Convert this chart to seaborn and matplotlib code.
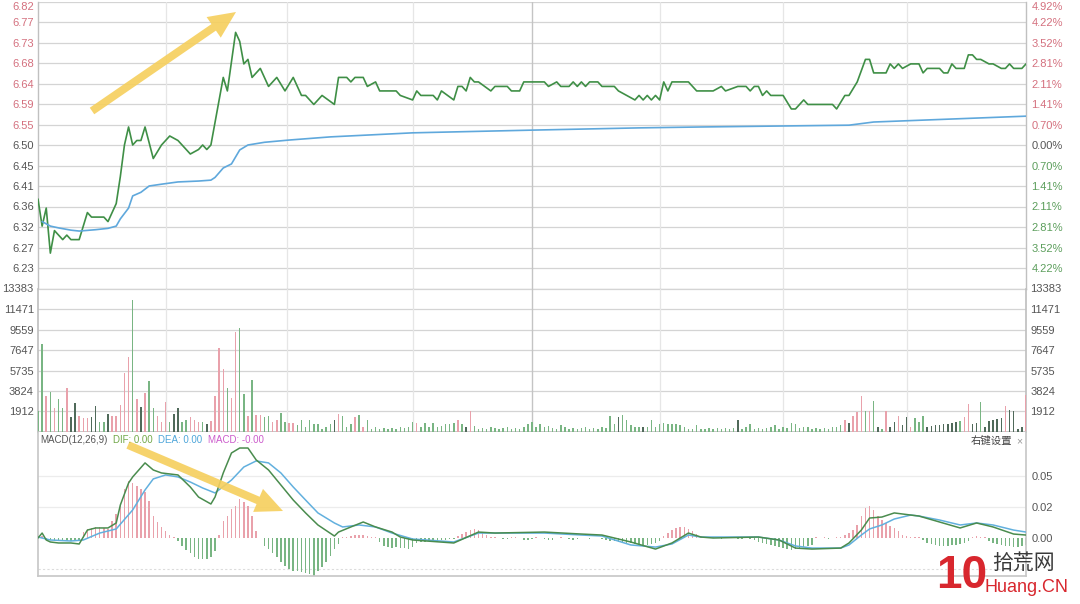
import matplotlib
matplotlib.use("Agg")
import matplotlib.pyplot as plt
import seaborn as sns
import pandas as pd

W, H = 1080, 604
sns.set_theme(style="white")
plt.rcParams["font.family"] = ["Liberation Sans", "Noto Sans CJK SC", "DejaVu Sans"]

# ---------------- data ----------------
prev_close = 6.50
pct_step = 0.007
tick_steps = [7, 6, 5, 4, 3, 2, 1, 0, -1, -2, -3, -4, -5, -6]
price_tick_labels = ["6.82", "6.77", "6.73", "6.68", "6.64", "6.59", "6.55", "6.50",
                     "6.45", "6.41", "6.36", "6.32", "6.27", "6.23"]
pct_tick_labels = ["4.92%", "4.22%", "3.52%", "2.81%", "2.11%", "1.41%", "0.70%", "0.00%",
                   "0.70%", "1.41%", "2.11%", "2.81%", "3.52%", "4.22%"]

price_points = [
    (0, 6.38), (1, 6.32), (2, 6.36), (3, 6.26), (4, 6.31), (5, 6.30), (6, 6.29), (7, 6.30),
    (8, 6.29), (10, 6.29), (11, 6.32), (12, 6.35), (13, 6.34), (15, 6.34), (16, 6.34), (17, 6.33),
    (19, 6.37), (20, 6.43), (21, 6.50), (22, 6.54), (23, 6.50), (24, 6.51), (25, 6.51), (26, 6.54),
    (28, 6.47), (30, 6.50), (32, 6.52), (34, 6.51), (37, 6.48), (39, 6.49), (40, 6.50), (41, 6.49),
    (42, 6.50), (43, 6.55), (45, 6.65), (46, 6.62), (48, 6.75), (49, 6.73), (50, 6.68), (51, 6.69),
    (52, 6.65), (54, 6.67), (56, 6.63), (58, 6.65), (60, 6.62), (62, 6.65), (64, 6.61), (65, 6.61),
    (67, 6.59), (69, 6.61), (72, 6.59), (73, 6.65), (75, 6.65), (76, 6.64), (77, 6.65), (79, 6.65),
    (80, 6.63), (82, 6.64), (83, 6.62), (87, 6.62), (88, 6.61), (91, 6.60), (92, 6.62), (93, 6.61),
    (96, 6.61), (97, 6.60), (98, 6.62), (101, 6.60), (102, 6.63), (103, 6.63), (104, 6.62), (105, 6.65),
    (106, 6.64), (107, 6.64), (110, 6.62), (111, 6.63), (114, 6.63), (115, 6.62), (117, 6.62), (118, 6.64),
    (123, 6.64), (124, 6.63), (126, 6.64), (127, 6.63), (129, 6.63), (130, 6.64), (131, 6.63), (132, 6.64),
    (133, 6.63), (134, 6.64), (136, 6.64), (137, 6.63), (139, 6.63), (140, 6.63), (141, 6.62), (143, 6.61),
    (145, 6.60), (146, 6.61), (147, 6.60), (148, 6.61), (149, 6.60), (150, 6.61), (151, 6.60), (152, 6.64),
    (153, 6.62), (154, 6.64), (158, 6.64), (160, 6.62), (164, 6.62), (166, 6.63), (167, 6.62), (170, 6.63),
    (172, 6.63), (173, 6.62), (174, 6.63), (175, 6.63), (176, 6.61), (177, 6.62), (178, 6.61), (181, 6.61),
    (183, 6.58), (184, 6.58), (186, 6.60), (187, 6.59), (193, 6.59), (194, 6.58), (196, 6.61), (197, 6.61),
    (199, 6.64), (201, 6.69), (202, 6.69), (203, 6.66), (206, 6.66), (207, 6.68), (208, 6.67), (209, 6.68),
    (210, 6.67), (212, 6.68), (214, 6.68), (215, 6.66), (216, 6.67), (219, 6.67), (220, 6.66), (221, 6.66),
    (222, 6.68), (223, 6.67), (225, 6.67), (226, 6.70), (227, 6.70), (228, 6.69), (229, 6.69), (231, 6.68),
    (232, 6.68), (234, 6.67), (235, 6.67), (236, 6.68), (237, 6.67), (239, 6.67), (240, 6.68),
]

avg_points = [
    (1, 6.330), (3, 6.320), (5, 6.316), (8, 6.311), (10, 6.309), (14, 6.312), (17, 6.315), (19, 6.320),
    (20, 6.336), (22, 6.360), (23, 6.387), (25, 6.395), (27, 6.409), (30, 6.413), (34, 6.418), (39, 6.420),
    (42, 6.422), (43, 6.428), (45, 6.449), (47, 6.458), (49, 6.489), (51, 6.500), (55, 6.506), (61, 6.511),
    (71, 6.518), (91, 6.527), (120, 6.533), (146, 6.538), (161, 6.540), (197, 6.544), (203, 6.551), (240, 6.564),
]

volume_ticks = [1912, 3824, 5735, 7647, 9559, 11471, 13383]
volume = [
    2000, 8200, 3360, 3730, 2270, 3080, 2270, 4130, 1400, 2730,
    1490, 1310, 1310, 1400, 2450, 960, 960, 1650, 1490, 1490,
    2520, 5530, 7030, 12320, 3080, 2360, 3610, 4760, 2210, 1520,
    930, 2830, 900, 1680, 2210, 900, 1150, 1370, 1150, 900,
    930, 700, 1000, 3360, 7810, 5850, 4130, 3140, 9360, 9730,
    3520, 1520, 4850, 1580, 1580, 1400, 1490, 930, 1150, 1770,
    930, 840, 840, 620, 1150, 470, 1090, 780, 780, 310,
    470, 780, 1090, 1710, 1460, 470, 780, 1400, 1550, 470,
    1090, 310, 470, 310, 380, 310, 380, 310, 470, 380,
    470, 930, 840, 470, 840, 470, 840, 470, 530, 780,
    780, 840, 1150, 780, 470, 1960, 530, 310, 380, 310,
    470, 380, 310, 380, 470, 310, 380, 310, 470, 780,
    930, 470, 720, 470, 530, 380, 310, 620, 470, 310,
    380, 310, 380, 470, 310, 380, 310, 470, 380, 1460,
    780, 1400, 1550, 1090, 620, 470, 470, 470, 470, 1090,
    470, 780, 840, 780, 780, 780, 620, 470, 310, 310,
    620, 310, 310, 380, 310, 380, 310, 380, 310, 380,
    1090, 310, 470, 780, 310, 380, 310, 380, 470, 620,
    310, 470, 380, 840, 780, 380, 470, 470, 310, 380,
    310, 380, 310, 470, 470, 620, 1090, 840, 1460, 1870,
    3330, 1960, 1960, 2890, 470, 310, 1960, 470, 930, 1460,
    620, 1400, 470, 1340, 930, 1460, 470, 530, 620, 620,
    780, 780, 840, 930, 1030, 1400, 2640, 780, 840, 2800,
    470, 1030, 1090, 1240, 1340, 2390, 2020, 1960, 310, 470,
    3420,
]
# r = up (red), g = down (green), n = flat (dark)
volume_dir = (
    "ggrgrggrnn" "rrrnnggnrr" "rrrgrnrggr" "rrgnnggrrr" "gnrrrrgrrg"
    "grgrrggrrg" "grrggggggg" "ggnrgggrgr" "gggggggggg" "ggrggggggg"
    "ggrgnrgggg" "gggggggggg" "gggggggggg" "gggggggggg" "gngggggngg"
    "gggggggggg" "gggggggggg" "nggggggggg" "gggggggggg" "ggggggrnrr"
    "rgrgngrnnr" "nnrgggnnnn" "nnnngrrnng" "nnnnnrnnnn" "r"
)

macd_ticks = [0, 25, 50]                 # in thousandths
macd_tick_labels = ["0.00", "0.02", "0.05"]
macd_hist = [
    0, 1.6,
    -1.6, -1.6, -2.4, -2.4, -2.4, -2.4, -2.4, -2.4, -1.6,
    4.8, 7.3, 8.1, 8.9, 8.9, 8.1, 7.3,
    13.7, 19.3, 25.8, 39.5, 45.9, 44.3, 41.9, 39.5, 37.1, 29.8, 17.7, 12.9, 8.9, 5.6, 2.4, 0.8,
    -2.4, -6.4, -9.7, -12.1, -15.3, -16.9, -16.9, -16.9, -15.3, -10.5,
    2.4, 13.7, 17.7, 23.4, 25.8, 31.4, 29.0, 25.8, 17.7, 5.6, 0.0,
    -6.4, -8.9, -12.1, -15.3, -19.3, -22.6, -25.0, -26.6, -26.6, -27.4, -28.2, -29.0, -30.6,
    -26.6, -23.4, -19.3, -14.5, -8.9, -4.8,
    0.8, 0.8, 1.6, 2.4, 2.4, 2.4, 1.6, 0.8, 0.8,
    -3.2, -6.4, -7.3, -8.1, -7.3, -8.1, -8.1, -8.9, -7.3,
    -4.0, -3.2, -3.2, -2.4, -2.4, -2.4, -1.6, -1.6, -0.8, -0.8,
    1.6, 3.2, 4.8, 6.4, 7.3, 6.4, 4.8, 2.4, 0.8,
    0.8, 0, -0.8, -0.8, 0.8, 0.8, 0, -1.6, -1.6, -0.8, 0.8, 0, -0.8, -1.6, -1.6, 0, 0.8, 0,
    -0.8, -1.6, -0.8, 0, 0, -0.8, 0, 0, -0.8,
    -1.6, -2.4, -2.4, -3.2, -3.2, -4.0, -4.0, -4.8, -4.8, -5.6, -5.6, -4.8, -4.0, -2.4,
    1.6, 4.0, 6.4, 8.1, 8.9, 8.9, 7.3, 5.6, 3.2, 1.6,
    0.8, 0, 0.8, 0, -0.8, 0, 0.8, 0, -0.8, -0.8, 0, -0.8, -1.6,
    -3.2, -4.0, -4.8, -5.6, -6.4, -7.3, -8.1, -8.9, -9.7, -8.9, -8.1, -7.3, -6.4, -5.6,
    0.8, 0, 0.8, -0.8, 0, 0.8, 0.8,
    2.4, 4.0, 6.4, 10.5, 17.7, 24.2, 25.8, 22.6, 17.7, 14.5, 12.1, 9.7, 8.1, 5.6, 2.4, 1.6, 0.8, 0.8, 0.8,
    -1.6, -4.0, -4.8, -5.6, -6.4, -6.4, -6.4, -5.6, -5.6, -4.8, -4.0, -2.4,
    0.8, 1.6, 0.8, 0.8,
    -2.4, -4.0, -4.8, -5.6, -6.4, -6.4, -7.3, -7.3, -6.4, -5.6,
]

dif_points = [
    (0, 0), (1, 4.0), (2, -1.6), (3, -3.2), (5, -4.0), (8, -4.0), (10, -4.8), (12, 6.4), (14, 8.1), (17, 8.1),
    (19, 12.1), (20, 26.6), (22, 44.3), (23, 49.2), (26, 60.5), (28, 54.8), (30, 52.4), (34, 50.8), (37, 41.1), (39, 33.0),
    (42, 27.4), (43, 33.0), (45, 52.4), (47, 68.5), (49, 72.5), (51, 72.5), (53, 62.9), (56, 54.8), (59, 42.7), (62, 30.6),
    (65, 20.2), (68, 10.5), (72, 1.6), (73, 4.8), (76, 8.9), (79, 12.9), (82, 8.9), (86, 4.8), (88, 0.8), (91, -1.6),
    (101, -4.0), (107, 4.8), (111, 4.0), (123, 4.8), (132, 3.2), (137, 2.4), (144, -3.2), (150, -8.9), (154, -4.0), (158, 4.0),
    (161, 0.8), (164, 0), (175, 0.8), (180, -1.6), (184, -8.1), (188, -8.9), (195, -8.1), (197, -4.0), (200, 6.4), (202, 16.1),
    (205, 16.9), (208, 20.2), (212, 18.5), (214, 17.7), (219, 12.9), (224, 8.1), (228, 12.1), (232, 8.9), (237, 3.2), (240, 2.4),
]
dea_points = [
    (0, 0.8), (3, -1.6), (8, -2.4), (11, -1.6), (15, 4.0), (19, 7.3), (23, 22.6), (26, 38.7), (28, 47.6), (31, 50.8),
    (34, 49.2), (37, 45.1), (40, 40.3), (43, 36.3), (47, 46.7), (50, 57.2), (53, 62.1), (56, 60.5), (59, 52.4), (62, 41.1),
    (65, 30.6), (68, 20.2), (72, 12.1), (74, 8.9), (78, 10.5), (82, 8.9), (86, 4.0), (91, -0.8), (101, -3.2), (107, 4.0),
    (111, 4.0), (123, 4.0), (132, 2.4), (137, 1.6), (144, -5.6), (150, -7.3), (154, -4.8), (158, 2.4), (161, 0.8), (175, 0.8),
    (180, -1.6), (184, -6.4), (188, -8.1), (195, -8.1), (197, -5.6), (200, 2.4), (202, 7.3), (205, 10.5), (208, 15.3), (212, 18.5),
    (214, 17.7), (219, 14.5), (224, 10.5), (228, 12.1), (232, 10.5), (237, 6.4), (240, 4.8),
]

grid_minutes = [31, 60.5, 91, 151, 181, 211]
mid_minute = 120

# ---------------- colours ----------------
PRICE_GREEN = "#3f8f46"
AVG_BLUE = "#5fa8dc"
UP_RED = "#e9a1ab"
DOWN_GREEN = "#79b583"
FLAT_DARK = "#506a5a"
DIF_COLOR = "#4a8c4e"
DEA_COLOR = "#62b0de"
LBL_RED = "#d4707e"
LBL_GREEN = "#5c9e5c"
LBL_GREY = "#555555"
HGRID = "#d4d4d4"
VGRID = "#e6e6e6"

fig = plt.figure(figsize=(W / 100, H / 100), dpi=100)
fig.patch.set_facecolor("white")


def px_axes(x0, y0, x1, y1):
    return fig.add_axes([x0 / W, 1 - y1 / H, (x1 - x0) / W, (y1 - y0) / H])


ax_p = px_axes(38, 1.5, 1026, 288.5)
ax_v = px_axes(38, 288.5, 1026, 432)
ax_m = px_axes(38, 432, 1026, 576)

# ---------------- price panel ----------------
price_df = pd.DataFrame(price_points, columns=["minute", "price"])
avg_df = pd.DataFrame(avg_points, columns=["minute", "price"])
sns.lineplot(data=price_df, x="minute", y="price", ax=ax_p, color=PRICE_GREEN,
             linewidth=1.2, estimator=None, sort=False, zorder=3)
sns.lineplot(data=avg_df, x="minute", y="price", ax=ax_p, color=AVG_BLUE,
             linewidth=1.2, estimator=None, sort=False, zorder=3)
tick_pos = [prev_close * (1 + k * pct_step) for k in tick_steps]
ylim_p = (prev_close * (1 - 7 * pct_step), prev_close * (1 + 7 * pct_step))
ax_p.set_xlim(0, 240)
ax_p.set_ylim(*ylim_p)
ax_p.set_yticks(tick_pos)
ax_p.set_yticklabels(price_tick_labels)
ax_p.set_xticks([])
ax_p.set_xlabel("")
ax_p.set_ylabel("")
ax_p.tick_params(axis="y", length=0, pad=3, labelsize=8)
for k, lbl in zip(tick_steps, ax_p.get_yticklabels()):
    lbl.set_color(LBL_RED if k > 0 else LBL_GREY)
ax_p.get_yticklabels()[0].set_verticalalignment("top")
for t in tick_pos:
    ax_p.axhline(t, color=HGRID, lw=0.9, zorder=1)
for m in grid_minutes:
    ax_p.axvline(m, color=VGRID, lw=0.9, zorder=1)
ax_p.axvline(mid_minute, color="#c4c4c4", lw=1.0, zorder=1)
for name, sp in ax_p.spines.items():
    sp.set_color("#c0c0c0")
    sp.set_linewidth(1.0)
ax_p.spines["top"].set_visible(False)

ax_r = ax_p.twinx()
ax_r.set_ylim(*ylim_p)
ax_r.set_yticks(tick_pos)
ax_r.set_yticklabels(pct_tick_labels)
ax_r.tick_params(axis="y", length=0, pad=4, labelsize=8)
for k, lbl in zip(tick_steps, ax_r.get_yticklabels()):
    lbl.set_color(LBL_RED if k > 0 else (LBL_GREY if k == 0 else LBL_GREEN))
ax_r.get_yticklabels()[0].set_verticalalignment("top")
for sp in ax_r.spines.values():
    sp.set_visible(False)

# ---------------- volume panel ----------------
vol_df = pd.DataFrame({"minute": list(range(len(volume))), "volume": volume,
                       "dir": list(volume_dir[:len(volume)])})
sns.barplot(data=vol_df, x="minute", y="volume", hue="dir",
            palette={"r": UP_RED, "g": DOWN_GREEN, "n": FLAT_DARK},
            native_scale=True, width=0.36, dodge=False, legend=False,
            errorbar=None, saturation=1, linewidth=0, ax=ax_v, zorder=3)
ax_v.set_xlim(0, 240)
ax_v.set_ylim(0, volume_ticks[-1])
ax_v.set_yticks(volume_ticks)
ax_v.set_yticklabels([str(v) for v in volume_ticks])
ax_v.set_xticks([])
ax_v.set_xlabel("")
ax_v.set_ylabel("")
ax_v.tick_params(axis="y", length=0, pad=3, labelsize=8, labelcolor=LBL_GREY,
                 labelleft=True, labelright=True, left=False, right=False)
for t in volume_ticks:
    ax_v.axhline(t, color=HGRID, lw=0.9, zorder=1)
for m in grid_minutes:
    ax_v.axvline(m, color=VGRID, lw=0.9, zorder=1)
ax_v.axvline(mid_minute, color="#c4c4c4", lw=1.0, zorder=1)
for sp in ax_v.spines.values():
    sp.set_color("#c0c0c0")
ax_v.spines["top"].set_visible(False)

# ---------------- MACD panel ----------------
hist_df = pd.DataFrame({"minute": list(range(len(macd_hist))), "macd": macd_hist,
                        "sign": ["r" if v >= 0 else "g" for v in macd_hist]})
sns.barplot(data=hist_df, x="minute", y="macd", hue="sign",
            palette={"r": UP_RED, "g": DOWN_GREEN},
            native_scale=True, width=0.36, dodge=False, legend=False,
            errorbar=None, saturation=1, linewidth=0, ax=ax_m, zorder=2)
dif_df = pd.DataFrame(dif_points, columns=["minute", "v"])
dea_df = pd.DataFrame(dea_points, columns=["minute", "v"])
sns.lineplot(data=dea_df, x="minute", y="v", ax=ax_m, color=DEA_COLOR, linewidth=1.1,
             estimator=None, sort=False, zorder=3)
sns.lineplot(data=dif_df, x="minute", y="v", ax=ax_m, color=DIF_COLOR, linewidth=1.1,
             estimator=None, sort=False, zorder=4)
ax_m.set_xlim(0, 240)
ax_m.set_ylim(-30.6, 85.4)
ax_m.set_yticks(macd_ticks)
ax_m.set_yticklabels(macd_tick_labels)
ax_m.set_xticks([])
ax_m.set_xlabel("")
ax_m.set_ylabel("")
ax_m.yaxis.tick_right()
ax_m.tick_params(axis="y", length=0, pad=4, labelsize=8, labelcolor=LBL_GREY)
for t in (25, 50):
    ax_m.axhline(t, color="#ececec", lw=0.9, zorder=1)
ax_m.axhline(-25, color="#dcdcdc", lw=0.8, ls=(0, (2, 2)), zorder=1)
for sp in ax_m.spines.values():
    sp.set_color("#c8c8c8")
ax_m.spines["top"].set_visible(False)


def ftext(x, y, s, **kw):
    fig.text(x / W, 1 - y / H, s, va="center", ha="left", **kw)


ftext(40, 440, "MACD(12,26,9)", fontsize=7, color="#555555")
ftext(113, 440, "DIF: 0.00", fontsize=7, color="#72a84a")
ftext(158, 440, "DEA: 0.00", fontsize=7, color="#4ea6da")
ftext(208, 440, "MACD: -0.00", fontsize=7, color="#cc5ccc")
ftext(971, 441, "右键设置", fontsize=7.5, color="#444444", family=["Noto Sans CJK SC"])
ftext(1016, 441, "×", fontsize=7.5, color="#999999")

# yellow annotation arrows
arrow_kw = dict(arrowstyle="simple,head_length=1.3,head_width=1.2,tail_width=0.38",
                color="#f6cf5c", alpha=0.9, lw=0, shrinkA=0, shrinkB=0, mutation_scale=15)
ax_p.annotate("", xy=(236 / W, 1 - 12 / H), xytext=(92 / W, 1 - 111 / H),
              xycoords="figure fraction", textcoords="figure fraction",
              arrowprops=arrow_kw, annotation_clip=False, zorder=10)
ax_m.annotate("", xy=(283 / W, 1 - 511 / H), xytext=(128 / W, 1 - 445 / H),
              xycoords="figure fraction", textcoords="figure fraction",
              arrowprops=arrow_kw, annotation_clip=False, zorder=10)

# watermark logo
fig.text(936 / W, 1 - 598 / H, "10", fontsize=33, fontweight="bold", color="#d8272e",
         ha="left", va="bottom")
fig.text(992 / W, 1 - 563 / H, "拾荒网", fontsize=15, color="#3a3a3a", ha="left", va="center",
         family=["Noto Sans CJK SC"])
fig.text(984 / W, 1 - 587 / H, "Huang.CN", fontsize=13, color="#d8272e", ha="left", va="center")

fig.savefig("out.png", dpi=100, facecolor="white")
